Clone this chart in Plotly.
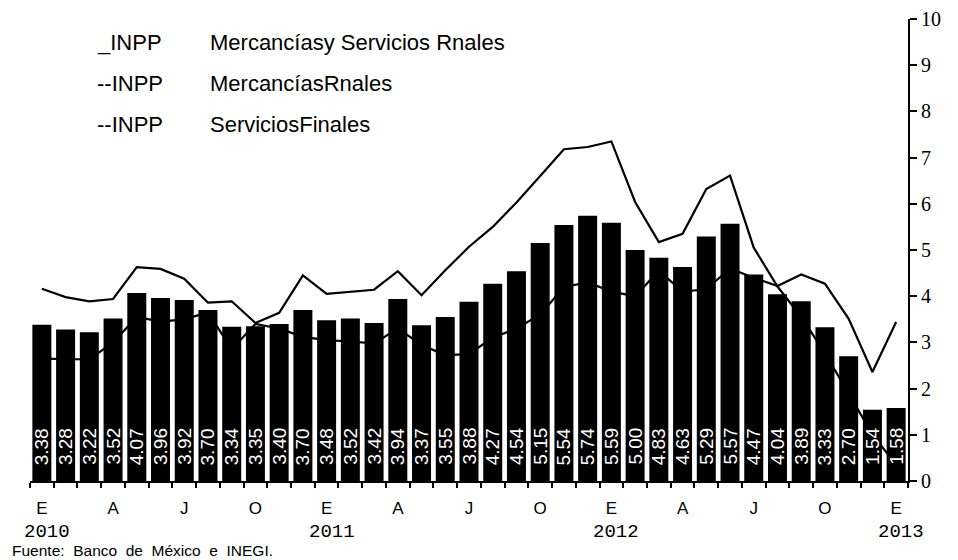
import plotly.graph_objects as go

# ---- data ----
months_idx = list(range(37))  # Jan 2010 .. Jan 2013
month_letters = ["E", "", "", "A", "", "", "J", "", "", "O", "", "",
                 "E", "", "", "A", "", "", "J", "", "", "O", "", "",
                 "E", "", "", "A", "", "", "J", "", "", "O", "", "",
                 "E"]
year_labels = ["2010", "2011", "2012", "2013"]
year_positions = [0, 12, 24, 36]

total = [3.38, 3.28, 3.22, 3.52, 4.07, 3.96, 3.92, 3.70, 3.34, 3.35, 3.40, 3.70,
         3.48, 3.52, 3.42, 3.94, 3.37, 3.55, 3.88, 4.27, 4.54, 5.15, 5.54, 5.74,
         5.59, 5.00, 4.83, 4.63, 5.29, 5.57, 4.47, 4.04, 3.89, 3.33, 2.70, 1.54,
         1.58]
mercancias = [4.16, 3.98, 3.89, 3.94, 4.63, 4.59, 4.38, 3.86, 3.89, 3.42, 3.64, 4.45,
              4.05, 4.10, 4.14, 4.54, 4.02, 4.56, 5.07, 5.50, 6.03, 6.60, 7.18, 7.23,
              7.35, 6.04, 5.17, 5.35, 6.32, 6.61, 5.05, 4.21, 3.55, 2.77, 1.90, 1.01,
              0.35]
servicios = [2.65, 2.64, 2.63, 3.00, 3.55, 3.45, 3.50, 3.65, 2.85, 3.40, 3.30, 3.12,
             3.05, 3.02, 2.98, 3.30, 2.95, 2.72, 2.75, 3.10, 3.30, 3.60, 4.20, 4.30,
             4.10, 4.00, 4.55, 4.10, 4.15, 4.60, 4.40, 4.22, 4.47, 4.27, 3.51, 2.36,
             3.44]

legend_rows = [("_INPP", "Mercancíasy Servicios Rnales"),
               ("--INPP", "MercancíasRnales"),
               ("--INPP", "ServiciosFinales")]
source_text = "Fuente:  Banco  de  México  e  INEGI."

SANS = "Liberation Sans, Arial, sans-serif"
SERIF = "Liberation Serif, Times New Roman, serif"
MONO = "Liberation Mono, DejaVu Sans Mono, monospace"

fig = go.Figure()

# lines (drawn beneath bars)
fig.add_trace(go.Scatter(x=months_idx, y=mercancias, mode="lines",
                         line=dict(color="black", width=2.2),
                         name="INPP Mercancías Finales", xaxis="x", yaxis="y"))
fig.add_trace(go.Scatter(x=months_idx, y=servicios, mode="lines",
                         line=dict(color="black", width=2.2),
                         name="INPP Servicios Finales", xaxis="x", yaxis="y"))
# bars on overlay axes so they sit on top of the lines
fig.add_trace(go.Bar(x=months_idx, y=total, marker=dict(color="black", line=dict(width=0)),
                     name="INPP Mercancías y Servicios Finales",
                     xaxis="x2", yaxis="y2"))

annotations = []
# value labels inside bars
for i, v in zip(months_idx, total):
    annotations.append(dict(x=i, y=0, xref="x", yref="y", text=f"{v:.2f}",
                            textangle=-90, showarrow=False, yanchor="bottom",
                            yshift=14, font=dict(family=SANS, size=19, color="white")))
# year labels
for xp, yl in zip(year_positions, year_labels):
    annotations.append(dict(x=xp, y=0, xref="x", yref="paper", text=yl,
                            showarrow=False, yanchor="top", yshift=-39, xshift=5,
                            borderpad=0,
                            font=dict(family=MONO, size=19, color="black")))
# legend-like text
row_y = [0.949, 0.861, 0.772]
for (a, b), yy in zip(legend_rows, row_y):
    annotations.append(dict(x=0.074, y=yy, xref="paper", yref="paper", text=a,
                            showarrow=False, xanchor="left", yanchor="middle",
                            font=dict(family=SANS, size=22, color="black")))
    annotations.append(dict(x=0.2027, y=yy, xref="paper", yref="paper", text=b,
                            showarrow=False, xanchor="left", yanchor="middle",
                            font=dict(family=SANS, size=22, color="black")))
# source
annotations.append(dict(x=0, y=0, xref="paper", yref="paper", text=source_text,
                        showarrow=False, xanchor="left", yanchor="middle",
                        xshift=-19, yshift=-69, borderpad=0,
                        font=dict(family=SANS, size=15.5, color="black")))

# page body has an 8px default margin -> figure is 950x552 so it fits the window
fig.update_layout(
    width=950, height=552,
    margin=dict(l=22, r=50, t=11, b=79),
    paper_bgcolor="white", plot_bgcolor="white",
    showlegend=False, bargap=0.2,
    xaxis=dict(range=[-0.5, 36.5], showgrid=False, zeroline=False, automargin=False,
               showline=True, linecolor="black", linewidth=2,
               tickmode="array", tickvals=months_idx, ticktext=month_letters,
               ticks="", ticklabelstandoff=11, ticklabeloverflow="allow",
               tickfont=dict(family=SANS, size=17, color="black"),
               minor=dict(tickvals=[k - 0.5 for k in range(38)], ticks="outside",
                          ticklen=5, tickwidth=2, tickcolor="black")),
    yaxis=dict(range=[0, 10], side="right", showgrid=False, zeroline=False, automargin=False,
               showline=True, linecolor="black", linewidth=2,
               tickmode="array", tickvals=list(range(11)), ticklabeloverflow="allow",
               ticks="outside", ticklen=7, tickwidth=2, tickcolor="black",
               tickfont=dict(family=SERIF, size=20, color="black")),
    xaxis2=dict(range=[-0.5, 36.5], overlaying="x", anchor="y2", visible=False),
    yaxis2=dict(range=[0, 10], overlaying="y", anchor="x2", side="right", visible=False),
    annotations=annotations,
)

fig.write_html("out.html")
